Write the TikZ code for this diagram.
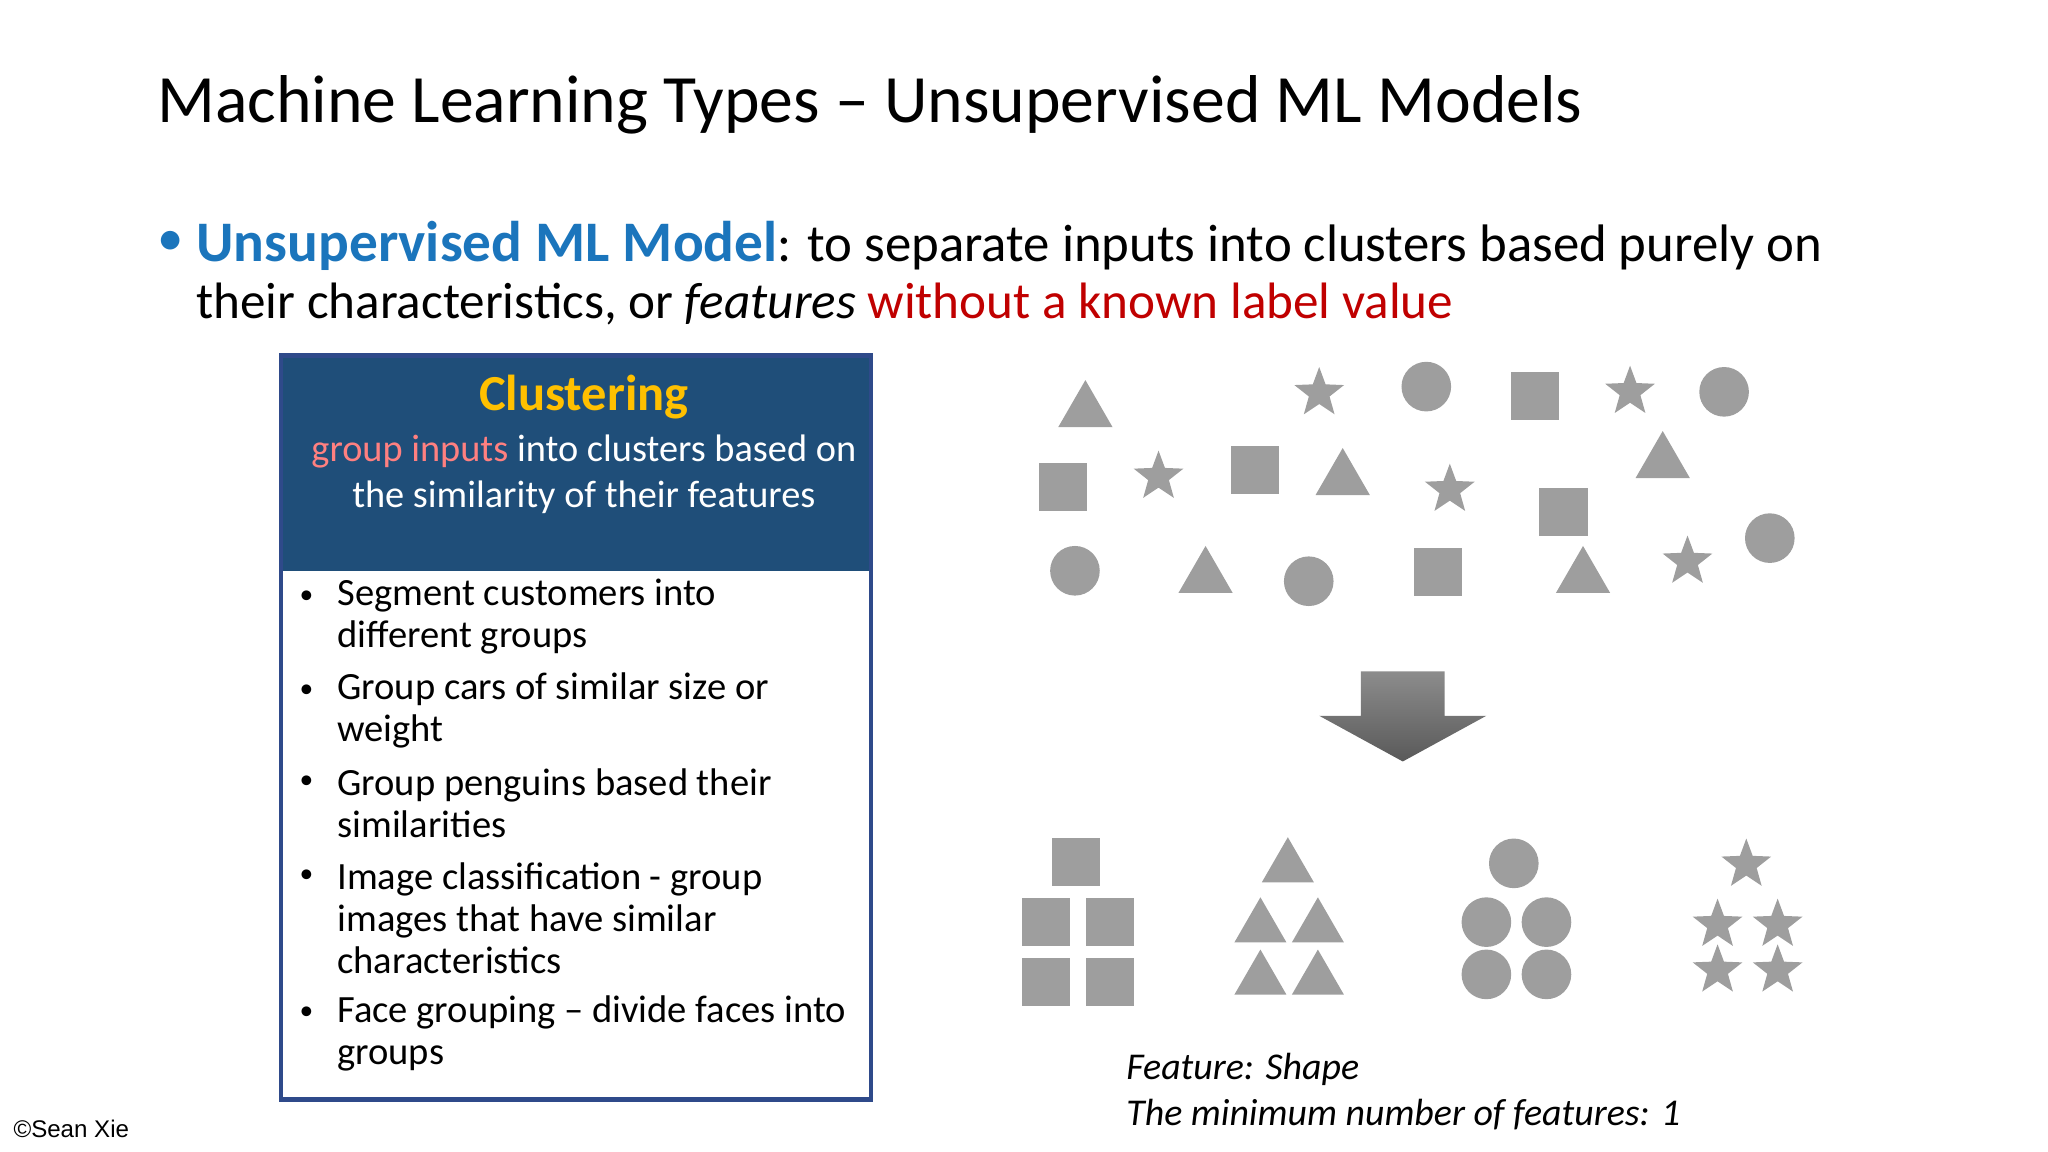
\documentclass[tikz,border=0pt]{standalone}
\usepackage{fontspec}
\setmainfont{Carlito}
\newfontfamily\arialf{Liberation Sans}
\usetikzlibrary{shapes.geometric}
\begin{document}
\begin{tikzpicture}[x=0.02cm,y=-0.02cm,
  shp/.style={fill=black!38,draw=none,inner sep=0pt},
  sq/.style={shp,rectangle,minimum size=37*0.02cm},
  ci/.style={shp,circle,minimum size=38*0.02cm},
  tr/.style={shp,regular polygon,regular polygon sides=3,minimum size=48*0.02cm},
  st/.style={shp,star,star points=5,star point ratio=2.4,minimum size=40*0.02cm},
  txt/.style={anchor=west,inner sep=0pt},
  litem/.style={txt,font=\fontsize{16.8}{18.5}\selectfont,align=left}]
\useasboundingbox (0,0) rectangle (1568,882);
\node[txt,font=\fontsize{29.5}{34}\selectfont] (title) at (120,80) {Machine Learning Types – Unsupervised ML Models};
\node[txt] (dot) at (120,186) {\fontsize{23}{26}\selectfont\textcolor[HTML]{1B75BC}{•}};
\node[txt,font=\fontsize{23}{28}\selectfont] (b1) at (150,188) {\textcolor[HTML]{1B75BC}{\fontsize{25}{28}\selectfont\bfseries Unsupervised ML Model}: to separate inputs into clusters based purely on};
\node[txt,font=\fontsize{22.3}{28}\selectfont] (b2) at (150,233) {their characteristics, or \textit{features} \textcolor[HTML]{C00000}{without a known label value}};
% box
\fill[color={rgb,255:red,31;green,78;blue,121}] (215,272) rectangle (667,437);
\draw[line width=2pt,color={rgb,255:red,47;green,74;blue,138}] (215,272) rectangle (667,842);
\node[font=\fontsize{22}{26}\selectfont\bfseries,text={rgb,255:red,255;green,192;blue,0}] (clh) at (447,304) {Clustering};
\node[font=\fontsize{16.7}{20}\selectfont,text=white,align=center] (cls) at (447,363) {\textcolor[HTML]{FF8080}{group inputs} into clusters based on\\the similarity of their features};
\node[litem] (l1) at (258,472) {Segment customers into\\different groups};
\node[litem] (l2) at (258,544) {Group cars of similar size or\\weight};
\node[litem] (l3) at (258,615) {Group penguins based their\\similarities};
\node[litem] (l4) at (258,703) {Image classification - group\\images that have similar\\characteristics};
\node[litem] (l5) at (258,791) {Face grouping – divide faces into\\groups};
\foreach \y [count=\i] in {457,529,599,671,776} \node[txt,font=\fontsize{12}{14}\selectfont] (bu\i) at (229,\y) {•};
% scattered shapes
\foreach \p [count=\i] in {(831,315),(1028,367),(923,442),(1212,442),(1273,354)} \node[tr] (t\i) at \p {};
\foreach \p [count=\i] in {(1010,301),(1248,300),(887,365),(1110,375),(1292,430)} \node[st] (s\i) at \p {};
\foreach \p [count=\i] in {(1092,296),(1320,300),(823,437),(1002,445),(1355,412)} \node[ci] (c\i) at \p {};
\foreach \p [count=\i] in {(1175,303),(814,373),(961,360),(1197,392),(1101,438)} \node[sq] (q\i) at \p {};
% arrow
\shade[top color=black!45,bottom color=black!65] (1042,514) -- (1106,514) -- (1106,548) -- (1138,548) -- (1074,583) -- (1010,548) -- (1042,548) -- cycle;
% groups
\foreach \p [count=\i] in {(824,660),(801,706),(850,706),(801,752),(850,752)} \node[sq] (gq\i) at \p {};
\foreach \p [count=\i] in {(986,664),(965,710),(1009,710),(965,750),(1009,750)} \node[tr,minimum size=46*0.02cm] (gt\i) at \p {};
\foreach \p [count=\i] in {(1159,661),(1138,706),(1184,706),(1138,746),(1184,746)} \node[ci] (gc\i) at \p {};
\foreach \p [count=\i] in {(1337,662),(1315,708),(1361,708),(1315,743),(1361,743)} \node[st] (gs\i) at \p {};
\node[txt,font=\fontsize{16.5}{20}\selectfont\itshape,align=left] (feat) at (862,836) {Feature: Shape\\The minimum number of features: 1};
\node[txt,font=\arialf\fontsize{10.5}{12}\selectfont] (copy) at (10,864) {©Sean Xie};
\end{tikzpicture}
\end{document}
